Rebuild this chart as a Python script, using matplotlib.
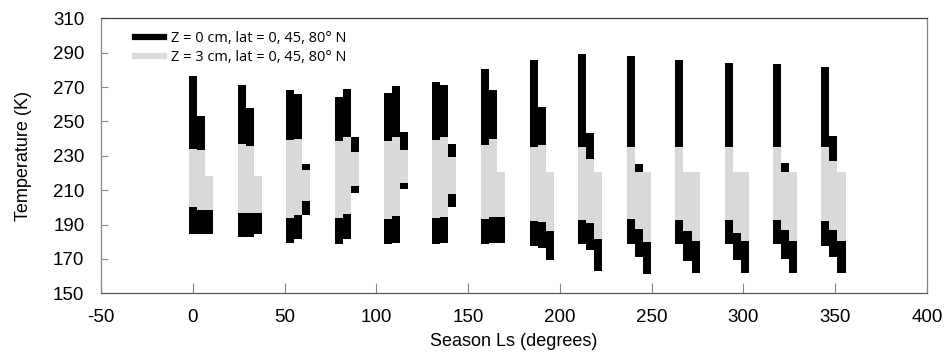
import matplotlib
matplotlib.use("Agg")
import matplotlib.pyplot as plt
from matplotlib.lines import Line2D

# season Ls of each group (degrees)
ls = [0, 26.6, 53, 79.8, 106.2, 132.5, 159.2, 185.7, 212.1, 238.8, 265.1, 292, 318.3, 344.6]
lat_offset = [0, 4.4, 8.8]   # bars for lat 0, 45, 80 sit side by side
bar_w = 4.4

# Z = 0 cm (surface) daily range, K
z0_max_lat0 = [276.6, 271.4, 268, 264.4, 266.4, 273, 280.3, 286, 289, 288, 285.7, 284.2, 283.2, 281.5]
z0_min_lat0 = [184.5, 182.5, 179.5, 178.5, 178.7, 178.5, 178.5, 177.5, 178.5, 178.5, 178.5, 178.5, 178.5, 177.5]
z0_max_lat45 = [253.4, 258, 266, 269, 270.4, 271.2, 268, 258.6, 243, 225.2, 220.4, 220.4, 226, 241.5]
z0_min_lat45 = [184.5, 182.5, 181.5, 181.4, 179.5, 179.5, 179, 176.6, 175.2, 171.3, 168.8, 169.4, 169.8, 171.3]
z0_max_lat80 = [218, 218, 225.2, 241, 243.7, 236.7, 220.4, 220.4, 220.4, 220.4, 220.4, 220.4, 220.4, 220.4]
z0_min_lat80 = [184.5, 184.5, 195.5, 208.2, 210.5, 200, 179, 169.4, 163.2, 161.3, 162, 162, 162, 162]

# Z = 3 cm daily range, K
z3_max_lat0 = [234, 237, 239, 238.6, 238.8, 239.2, 236, 235, 235, 235, 235, 235, 235, 235]
z3_min_lat0 = [200, 196.5, 194, 193.6, 193.1, 193.6, 193.2, 192.3, 192.7, 193.2, 192.7, 192.7, 192.7, 192.3]
z3_max_lat45 = [233.4, 235.7, 240, 240.8, 240.8, 240.8, 239.6, 236.3, 228, 220.4, 220.4, 220.4, 220.4, 227]
z3_min_lat45 = [198.5, 196.5, 195.5, 196, 195.2, 194.6, 194.2, 191.7, 190.7, 187.4, 186, 185.3, 186.8, 186.8]
z3_max_lat80 = [218, 218, 222, 232, 233.4, 229.1, 220.4, 220.4, 220.4, 220.4, 220.4, 220.4, 220.4, 220.4]
z3_min_lat80 = [198.5, 197, 203.7, 212.4, 214, 207.6, 194.2, 186, 181.6, 180, 180.6, 180.6, 180.6, 180.6]

z0 = [(z0_min_lat0, z0_max_lat0), (z0_min_lat45, z0_max_lat45), (z0_min_lat80, z0_max_lat80)]
z3 = [(z3_min_lat0, z3_max_lat0), (z3_min_lat45, z3_max_lat45), (z3_min_lat80, z3_max_lat80)]

BLACK = "#000000"
GREY = "#d9d9d9"

plt.rcParams["font.family"] = ["Liberation Sans", "DejaVu Sans"]
plt.rcParams["axes.unicode_minus"] = False

fig = plt.figure(figsize=(9.47, 3.61), dpi=100)
ax = fig.add_axes([0.1067, 0.1875, 0.8722, 0.7618])

for off, (lo, hi) in zip(lat_offset, z0):
    x = [s + off for s in ls]
    ax.bar(x, [h - l for l, h in zip(lo, hi)], bottom=lo, width=bar_w,
           color=BLACK, linewidth=0, antialiased=False, zorder=2)
for off, (lo, hi) in zip(lat_offset, z3):
    x = [s + off for s in ls]
    ax.bar(x, [h - l for l, h in zip(lo, hi)], bottom=lo, width=bar_w,
           color=GREY, linewidth=0, antialiased=False, zorder=3)

ax.set_xlim(-50, 400)
ax.set_ylim(150, 310)
ax.set_xticks(range(-50, 401, 50))
ax.set_yticks(range(150, 311, 20))
ax.tick_params(direction="in", length=5, width=0.8, color="#868686", labelsize=13.5)
ax.tick_params(axis="y", pad=12)
ax.tick_params(axis="x", length=7, pad=11)
ax.set_xlabel("Season Ls (degrees)", fontsize=13, labelpad=5)
ax.set_ylabel("Temperature (K)", fontsize=13, labelpad=15)

ax.spines["top"].set_color("#404040")
ax.spines["bottom"].set_color("#595959")
ax.spines["left"].set_color("#868686")
ax.spines["right"].set_color("#868686")
for s in ax.spines.values():
    s.set_linewidth(0.9)

handles = [Line2D([], [], color=BLACK, lw=4.5), Line2D([], [], color=GREY, lw=4.5)]
labels = ["Z = 0 cm, lat = 0, 45, 80\u00b0 N", "Z = 3 cm, lat = 0, 45, 80\u00b0 N"]
ax.legend(handles, labels, loc="upper left", bbox_to_anchor=(0.026, 1.0), frameon=False,
          prop={"family": ["Open Sans", "DejaVu Sans"], "size": 10.5}, handlelength=2.0,
          handletextpad=0.45, labelspacing=0.3, borderaxespad=0.45)

fig.savefig("out.png", dpi=100)
